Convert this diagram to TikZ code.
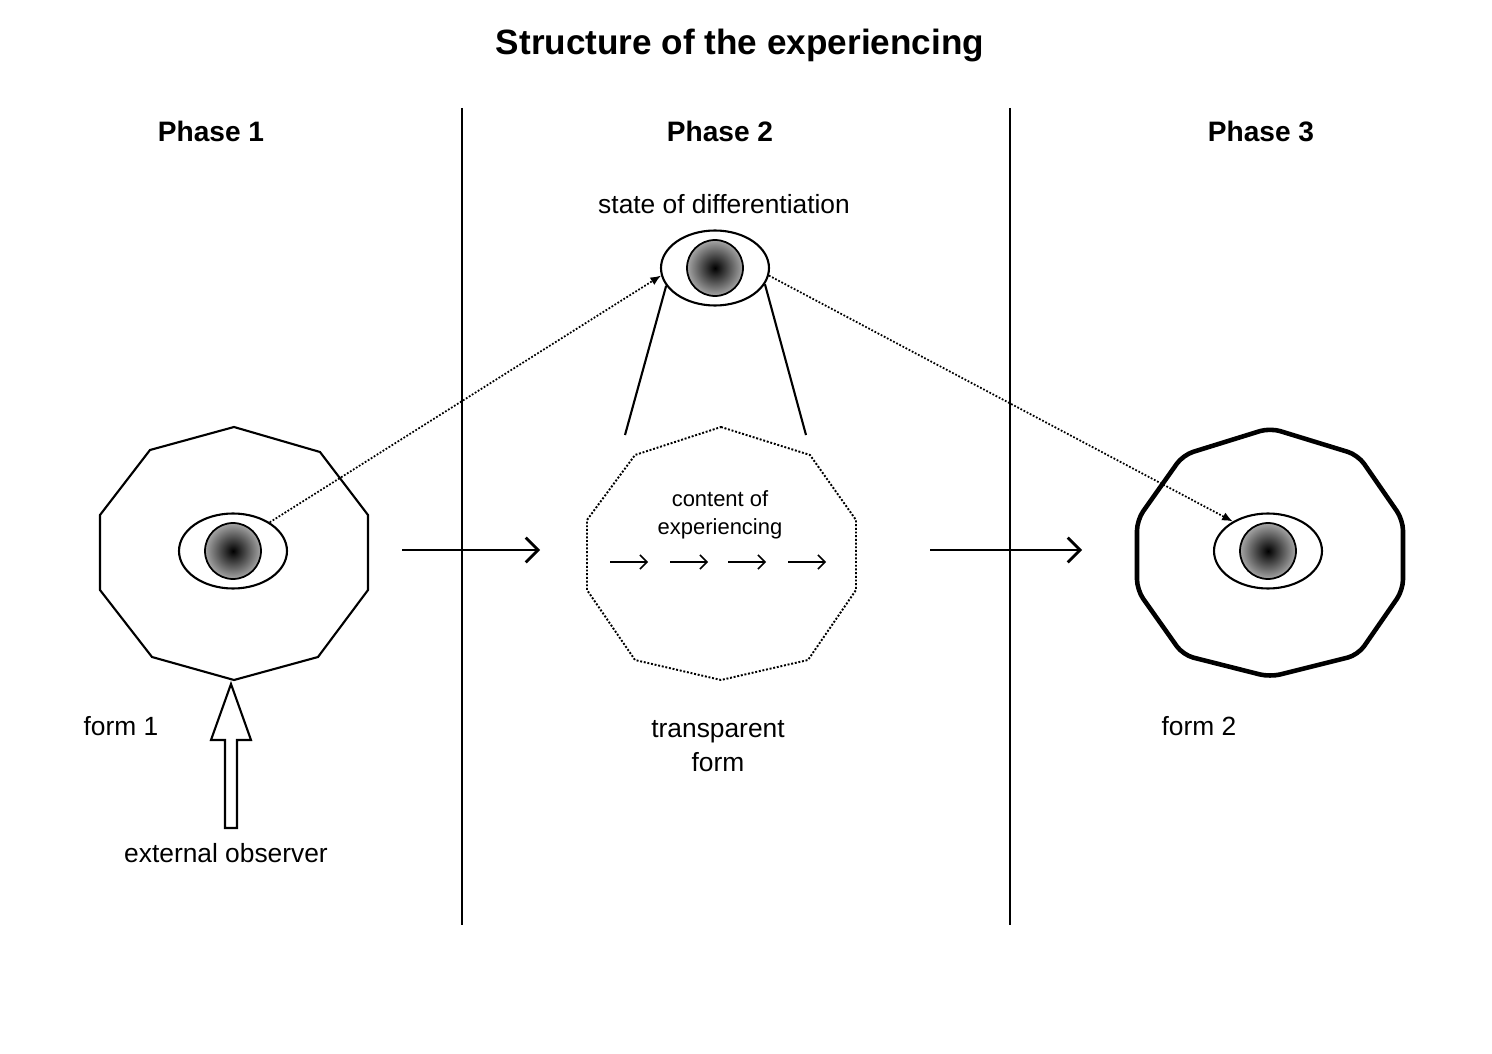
\documentclass[tikz,border=0pt]{standalone}
\usepackage{fontspec}
\setmainfont{Liberation Sans}
\usetikzlibrary{arrows.meta,shapes.geometric}
\tikzset{
  eye/.style={shape=ellipse,draw,line width=1.2pt,minimum width=2.16cm,minimum height=1.5cm,inner sep=0pt},
  iris/.style={shape=circle,draw,line width=1pt,minimum size=1.12cm,inner sep=0pt,inner color=black,outer color=black!35},
  phase/.style={font=\fontsize{16}{19}\selectfont\bfseries},
  lbl/.style={font=\fontsize{15}{19}\selectfont,align=center},
  flow/.style={-{Straight Barb[length=7pt,width=14pt]},line width=1.6pt},
  look/.style={densely dotted,line width=1pt,-{Latex[length=6pt,width=5pt]}}
}
\begin{document}
\begin{tikzpicture}[x=0.02cm,y=-0.02cm]
        \useasboundingbox (0,0) rectangle (1492,1054);
        % titles
        \node[font=\fontsize{20}{24}\selectfont\bfseries] (title) at (740,45) {Structure of the experiencing};
        \node[phase] (p1) at (211,131) {Phase 1};
        \node[phase] (p2) at (720,131) {Phase 2};
        \node[phase] (p3) at (1261,131) {Phase 3};
        % separators
        \draw[line width=1pt] (462,108) -- (462,925);
        \draw[line width=1pt] (1010,108) -- (1010,925);
        % forms
        \draw[line width=1.2pt] (234,427) -- (320,452) -- (368,515) -- (368,590) -- (318,657) -- (234,680)
          -- (152,657) -- (100,590) -- (100,515) -- (150,450) -- cycle;
        \draw[line width=1.1pt,densely dotted] (721,427) -- (810,455) -- (856,520) -- (856,590) -- (808,660) -- (721,680)
          -- (635,660) -- (587,590) -- (587,520) -- (635,455) -- cycle;
        \draw[line width=2.6pt,rounded corners=6pt] (1270,428) -- (1358,455) -- (1403,520) -- (1403,590) -- (1358,655) -- (1270,677)
          -- (1183,655) -- (1137,590) -- (1137,520) -- (1183,455) -- cycle;
        % eyes
        \node[eye] (eyeA) at (233,551) {};
        \node[iris] at (eyeA) {};
        \node[eye] (eyeB) at (715,268) {};
        \node[iris] at (eyeB) {};
        \node[eye] (eyeC) at (1268,551) {};
        \node[iris] at (eyeC) {};
        % cone
        \coordinate (coneL) at (625,435);
        \coordinate (coneR) at (806,435);
        \draw[line width=1.2pt] (coneL) -- (eyeB.200);
        \draw[line width=1.2pt] (coneR) -- (eyeB.-18);
        % views
        \draw[look] (eyeA.38) -- (eyeB.188);
        \draw[look] (eyeB.-8) -- (eyeC.140);
        % steps
        \coordinate (s1a) at (402,550); \coordinate (s1b) at (540,550);
        \coordinate (s2a) at (930,550); \coordinate (s2b) at (1082,550);
        \draw[flow] (s1a) -- (s1b);
        \draw[flow] (s2a) -- (s2b);
        % content
        \node[lbl,font=\fontsize{12.5}{16}\selectfont] (content) at (720,515) {content of\\experiencing};
        \foreach \x in {610,670,728,788}
          \draw[-{Straight Barb[length=4pt,width=8pt]},line width=0.9pt] (\x,562) -- (\x+38,562);
        % observer
        \draw[line width=1.2pt] (225,828) -- (237,828) -- (237,740) -- (251,740) -- (231,684) -- (211,740)
          -- (225,740) -- cycle;
        % labels
        \node[lbl] (f1) at (121,726) {form 1};
        \node[lbl] (obs) at (226,853) {external observer};
        \node[lbl] (f2) at (1199,726) {form 2};
        \node[lbl] (diff) at (724,204) {state of differentiation};
        \node[lbl] (trans) at (718,746) {transparent\\form};
\end{tikzpicture}
\end{document}
